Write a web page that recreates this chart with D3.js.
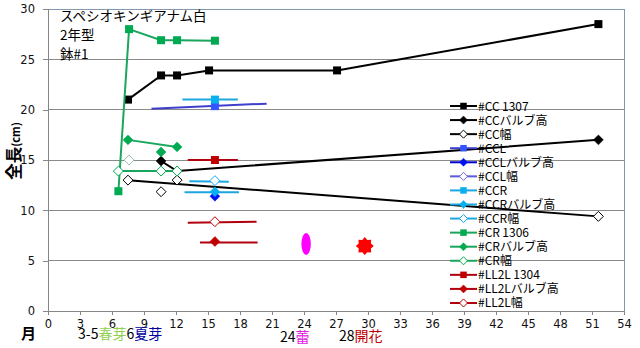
<!DOCTYPE html>
<html><head><meta charset="utf-8">
<script src="https://cdn.jsdelivr.net/npm/d3@7"></script>
<style>body{margin:0;background:#fff}svg{display:block}</style>
</head><body><svg id="c" width="640" height="348"></svg>
<script>
// ---------- data ----------
const xTicks = [0,3,6,9,12,15,18,21,24,27,30,33,36,39,42,45,48,51,54];
const yTicks = [0,5,10,15,20,25,30];
const titleLines = ["スペシオキンギアナム白","2年型","鉢#1"];

const ccMainLine = [[7.5,21.0],[10.6,23.4],[12.1,23.4],[15.1,23.9],[27.1,23.9],[51.6,28.5]];
const ccMainPts  = ccMainLine;
const ccBulbLine = [[10.6,14.9],[12.1,13.9],[51.6,17.0]];
const ccBulbPts  = ccBulbLine;
const ccWidLine  = [[7.5,13.0],[51.6,9.4]];
const ccWidPts   = [[7.5,13.0],[10.6,11.85],[12.1,13.0],[51.6,9.4]];

const cclMainLine = [[9.7,20.1],[20.5,20.6]];
const cclMainPts  = [[15.65,20.35]];
const cclBulbLine = [];
const cclBulbPts  = [[15.65,11.4]];
const cclWidLine  = [];
const cclWidPts   = [];

const ccrMainLine = [[12.6,21.0],[17.8,21.0]];
const ccrMainPts  = [[15.65,21.0]];
const ccrBulbLine = [[12.8,11.8],[17.9,11.8]];
const ccrBulbPts  = [[15.65,11.85]];
const ccrWidLine  = [[13.25,12.9],[16.95,12.85]];
const ccrWidPts   = [[15.65,12.95]];

const crMainLine = [[6.6,11.9],[7.6,28.0],[10.6,26.9],[12.1,26.9],[15.65,26.85]];
const crMainPts  = crMainLine;
const crBulbLine = [[7.5,17.0],[12.1,16.3]];
const crBulbPts  = [[7.5,17.0],[10.6,15.8],[12.1,16.3]];
const crWidLine  = [[6.6,13.9],[12.1,13.9]];
const crWidPts   = [[6.6,13.9],[10.6,13.9],[12.1,13.9]];
const crWidFaint = [[7.6,15.0]];

const llMainLine = [[13.1,15.0],[17.8,15.0]];
const llMainPts  = [[15.65,15.0]];
const llBulbLine = [[14.25,6.8],[19.65,6.8]];
const llBulbPts  = [[15.65,6.9]];
const llWidLine  = [[13.1,8.77],[19.55,8.87]];
const llWidPts   = [[15.65,8.87]];

const seriesNames = ["#CC\u20091307","#CCバルブ高","#CC幅","#CCL","#CCLバルブ高","#CCL幅",
  "#CCR","#CCRバルブ高","#CCR幅","#CR\u20091306","#CRバルブ高","#CR幅","#LL2L\u20091304","#LL2Lバルブ高","#LL2L幅"];

const budMark   = [24.2, 6.65];   // 蕾
const bloomMark = [29.7, 6.45];   // 開花

// ---------- style ----------
const colCC="#000000", colCCLa="#3F3FCC", colCCLm="#3355FF", colCCLb="#0000D0", colCCLw="#5B5BD6",
      colCCR="#1EA6DE", colCCRm="#0AAFF0", colCR="#1AA65C", colCRm="#00AA50", colLL="#B00010", colLLm="#C00000";

const series = [
  {name:seriesNames[0], line:ccMainLine, pts:ccMainPts, lc:colCC, mc:colCC, m:"square"},
  {name:seriesNames[1], line:ccBulbLine, pts:ccBulbPts, lc:colCC, mc:colCC, m:"diamond"},
  {name:seriesNames[2], line:ccWidLine, pts:ccWidPts, lc:colCC, mc:colCC, m:"open"},
  {name:seriesNames[3], line:cclMainLine, pts:cclMainPts, lc:colCCLa, mc:colCCLm, m:"square"},
  {name:seriesNames[4], line:cclBulbLine, pts:cclBulbPts, lc:colCCLb, mc:"#0010F0", m:"diamond"},
  {name:seriesNames[5], line:cclWidLine, pts:cclWidPts, lc:colCCLw, mc:"#6A6AF0", m:"open"},
  {name:seriesNames[6], line:ccrMainLine, pts:ccrMainPts, lc:colCCR, mc:colCCRm, m:"square"},
  {name:seriesNames[7], line:ccrBulbLine, pts:ccrBulbPts, lc:colCCR, mc:colCCRm, m:"diamond"},
  {name:seriesNames[8], line:ccrWidLine, pts:ccrWidPts, lc:colCCR, mc:colCCRm, m:"open"},
  {name:seriesNames[9], line:crMainLine, pts:crMainPts, lc:colCR, mc:colCRm, m:"square"},
  {name:seriesNames[10], line:crBulbLine, pts:crBulbPts, lc:colCR, mc:colCRm, m:"diamond"},
  {name:seriesNames[11], line:crWidLine, pts:crWidPts, lc:colCR, mc:colCRm, m:"open"},
  {name:seriesNames[12], line:llMainLine, pts:llMainPts, lc:colLL, mc:colLLm, m:"square"},
  {name:seriesNames[13], line:llBulbLine, pts:llBulbPts, lc:colLL, mc:colLLm, m:"diamond"},
  {name:seriesNames[14], line:llWidLine, pts:llWidPts, lc:colLL, mc:colLLm, m:"open"}
];

const svg = d3.select("#c");
const x = d3.scaleLinear().domain([0,54]).range([48,624]);
const y = d3.scaleLinear().domain([0,30]).range([311,9]);
const JP = "'Noto Sans CJK JP','Noto Sans',sans-serif";
const NUM = "'DejaVu Sans',sans-serif";

// gridlines
svg.append("g").selectAll("line").data(yTicks.filter(v=>v>0&&v<30)).join("line")
  .attr("x1",x(0)).attr("x2",x(54)).attr("y1",d=>y(d)).attr("y2",d=>y(d))
  .attr("stroke","#8A8A8A").attr("stroke-width",1).attr("shape-rendering","crispEdges");
// plot border
svg.append("rect").attr("x",x(0)).attr("y",y(30)).attr("width",x(54)-x(0)).attr("height",y(0)-y(30))
  .attr("fill","none").attr("stroke","#8497B0").attr("stroke-width",1).attr("shape-rendering","crispEdges");

// axes
const yAxis = svg.append("g").attr("transform",`translate(${x(0)},0)`)
  .call(d3.axisLeft(y).tickValues(yTicks).tickSize(5).tickPadding(8));
const xAxis = svg.append("g").attr("transform",`translate(0,${y(0)})`)
  .call(d3.axisBottom(x).tickValues(xTicks).tickSize(4).tickPadding(5));
[yAxis,xAxis].forEach(a=>{
  a.select(".domain").attr("stroke","#868686").attr("shape-rendering","crispEdges");
  a.selectAll(".tick line").attr("stroke","#868686").attr("shape-rendering","crispEdges");
});
yAxis.selectAll(".tick text").attr("font-family",NUM).attr("font-size","11.5px").attr("fill","#111");
xAxis.selectAll(".tick text").attr("font-family",NUM).attr("font-size","11.5px").attr("fill","#111");

// marker drawing
function marker(g, m, color, size){
  const s = size;
  if(m==="square"){
    g.append("rect").attr("x",-s/2).attr("y",-s/2).attr("width",s).attr("height",s).attr("fill",color);
  } else {
    const r = s*0.62;
    g.append("path").attr("d",`M0,${-r}L${r},0L0,${r}L${-r},0Z`)
      .attr("fill", m==="open" ? "#fff" : color)
      .attr("stroke", color).attr("stroke-width", m==="open"?1:0.5);
  }
}

const lineGen = d3.line().x(d=>x(d[0])).y(d=>y(d[1]));
const plot = svg.append("g");
series.forEach(s=>{
  if(s.line.length>1)
    plot.append("path").attr("d",lineGen(s.line)).attr("fill","none")
      .attr("stroke",s.lc).attr("stroke-width",2).attr("stroke-linejoin","round");
  s.pts.forEach(p=>{
    const g = plot.append("g").attr("transform",`translate(${x(p[0])},${y(p[1])})`);
    marker(g, s.m, s.mc, s.m==="square"?8:8);
  });
});
crWidFaint.forEach(p=>{
  const g = plot.append("g").attr("transform",`translate(${x(p[0])},${y(p[1])})`);
  marker(g,"open","#96C8A8",8);
});

// annotations: bud ellipse, bloom star
svg.append("ellipse").attr("cx",x(budMark[0])).attr("cy",y(budMark[1]))
  .attr("rx",4.7).attr("ry",11).attr("fill","#FF00FF");
const starPts = d3.range(16).map(i=>[i*Math.PI/8, i%2===0?9:6.6]);
svg.append("path").attr("d",d3.lineRadial().curve(d3.curveLinearClosed)(starPts))
  .attr("transform",`translate(${x(bloomMark[0])},${y(bloomMark[1])})`).attr("fill","#FF0000");

// title
svg.append("g").selectAll("text").data(titleLines).join("text")
  .attr("x",60).attr("y",(d,i)=>21+i*19).attr("font-family",JP).attr("font-size","13.5px")
  .attr("fill","#000").text(d=>d);

// y axis title
const yt = svg.append("text").attr("transform","translate(20,151) rotate(-90)")
  .attr("text-anchor","middle").attr("font-family",JP).attr("font-weight","bold").attr("fill","#000");
yt.append("tspan").attr("font-size","16.5px").text("全長");
yt.append("tspan").attr("font-size","11px").text("(cm)");

// bottom labels
svg.append("text").attr("x",21).attr("y",339).attr("font-family",JP).attr("font-weight","bold")
  .attr("font-size","15px").text("月");
function multi(xp, yp, parts){
  const t = svg.append("text").attr("x",xp).attr("y",yp).attr("font-family",JP).attr("font-size","14px");
  parts.forEach(p=>t.append("tspan").attr("fill",p[1]).text(p[0]));
}
multi(78,339,[["3-5","#000"],["春芽","#92D050"],["6","#000"],["夏芽","#0000A0"]]);
multi(280,342,[["24","#000"],["蕾","#E020E0"]]);
multi(339,341,[["28","#000"],["開花","#C00000"]]);

// legend
const leg = svg.append("g");
series.forEach((s,i)=>{
  const yy = 106 + i*14.07;
  const g = leg.append("g").attr("transform",`translate(0,${yy})`);
  g.append("line").attr("x1",450).attr("x2",477).attr("y1",0).attr("y2",0)
    .attr("stroke",s.lc).attr("stroke-width",2);
  const mg = g.append("g").attr("transform","translate(463.5,0)");
  marker(mg, s.m, s.mc, 6.5);
  g.append("text").attr("x",478).attr("y",4.5).attr("font-family",JP).attr("font-size","12px")
    .attr("fill","#000").text(s.name);
});
</script></body></html>
